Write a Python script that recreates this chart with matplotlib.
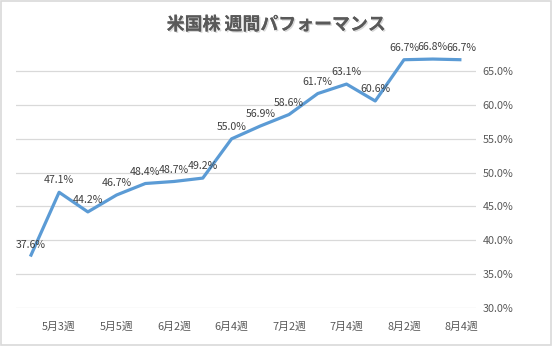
import matplotlib.pyplot as plt
from matplotlib.patches import Rectangle
import matplotlib.patheffects as pe

plt.rcParams['font.family'] = ['Noto Sans CJK JP', 'DejaVu Sans']

weeks = ["5月2週", "5月3週", "5月4週", "5月5週", "6月1週", "6月2週", "6月3週", "6月4週",
         "7月1週", "7月2週", "7月3週", "7月4週", "8月1週", "8月2週", "8月3週", "8月4週"]
performance = [37.6, 47.1, 44.2, 46.7, 48.4, 48.7, 49.2, 55.0,
               56.9, 58.6, 61.7, 63.1, 60.6, 66.7, 66.8, 66.7]
y_ticks = [30, 35, 40, 45, 50, 55, 60, 65]

text_color = "#595959"
line_color = "#5B9BD5"

fig = plt.figure(figsize=(5.52, 3.46), dpi=100)
fig.patches.append(Rectangle((0.002, 0.003), 0.996, 0.994, transform=fig.transFigure,
                             fill=False, edgecolor="#D9D9D9", linewidth=1.2))

ax = fig.add_axes([0.029, 0.110, 0.833, 0.733])
x = list(range(len(weeks)))
ax.plot(x, performance, color=line_color, linewidth=2.3, solid_capstyle="butt")

for xi, v in zip(x, performance):
    ax.annotate(f"{v:.1f}%", (xi, v), xytext=(0, 5), textcoords="offset points",
                ha="center", va="bottom", fontsize=7.6, color="#404040")

ax.set_xlim(-0.5, len(weeks) - 0.5)
ax.set_ylim(30, 67.5)
ax.set_yticks(y_ticks)
ax.set_yticklabels([f"{t:.1f}%" for t in y_ticks])
ax.yaxis.tick_right()
ax.set_xticks(x[1::2])
ax.set_xticklabels(weeks[1::2])
ax.tick_params(axis="both", length=0, labelsize=7.8, labelcolor=text_color)
ax.tick_params(axis="y", pad=5)
ax.tick_params(axis="x", pad=10)
ax.grid(axis="y", color="#D9D9D9", linewidth=0.9)
ax.set_axisbelow(True)
for s in ax.spines.values():
    s.set_visible(False)

fig.text(0.5, 0.928, "米国株 週間パフォーマンス", ha="center", va="center",
         fontsize=12.9, fontweight="bold", color=text_color,
         path_effects=[pe.withSimplePatchShadow(offset=(1, -1), shadow_rgbFace="#BFBFBF", alpha=0.6),
                       pe.Normal()])

fig.savefig("out.png", dpi=100)
